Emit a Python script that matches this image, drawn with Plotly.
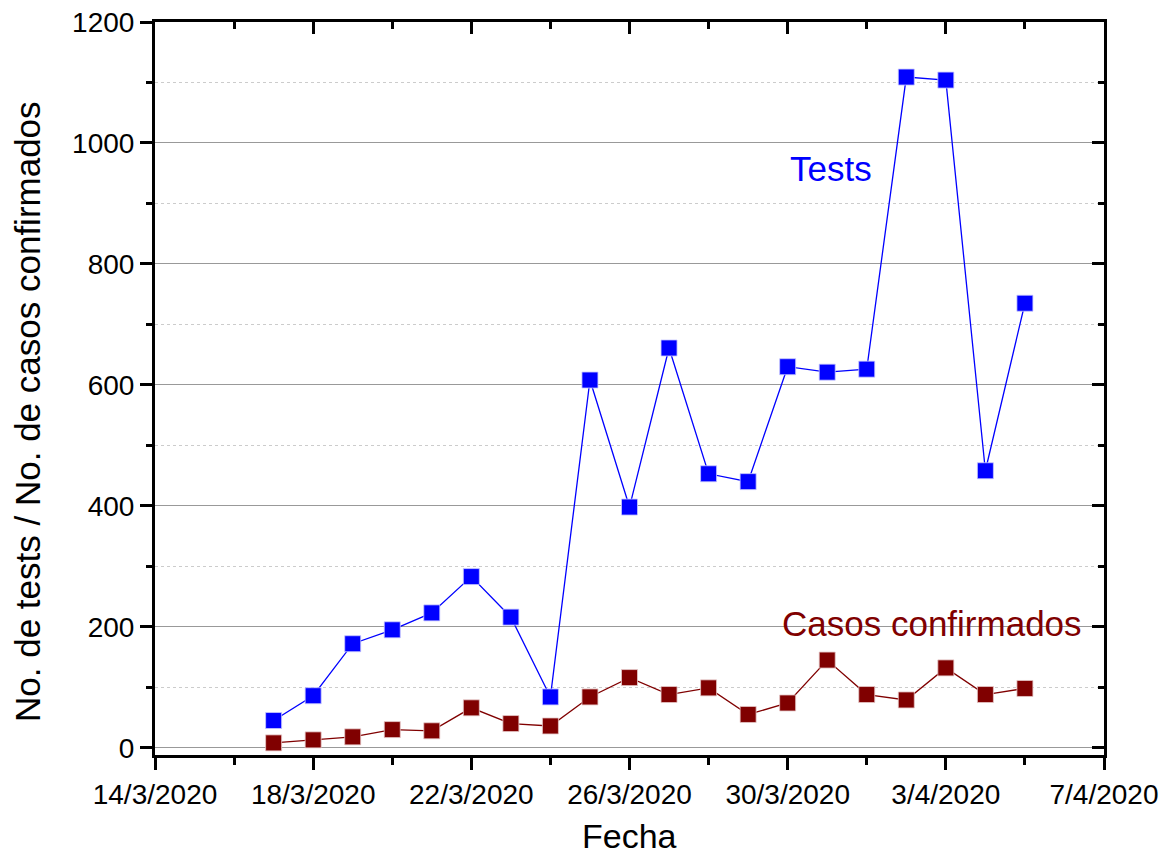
import plotly.graph_objects as go

dates = ["2020-03-17", "2020-03-18", "2020-03-19", "2020-03-20", "2020-03-21",
         "2020-03-22", "2020-03-23", "2020-03-24", "2020-03-25", "2020-03-26",
         "2020-03-27", "2020-03-28", "2020-03-29", "2020-03-30", "2020-03-31",
         "2020-04-01", "2020-04-02", "2020-04-03", "2020-04-04", "2020-04-05"]
tests = [45, 86, 172, 195, 223, 283, 216, 84, 608, 398,
         661, 453, 440, 630, 621, 626, 1109, 1104, 458, 735]
casos = [8, 13, 18, 30, 28, 66, 40, 36, 84, 116,
         88, 99, 55, 74, 145, 88, 79, 132, 88, 98]

tick_vals = ["2020-03-14", "2020-03-18", "2020-03-22", "2020-03-26",
             "2020-03-30", "2020-04-03", "2020-04-07"]
tick_text = ["14/3/2020", "18/3/2020", "22/3/2020", "26/3/2020",
             "30/3/2020", "3/4/2020", "7/4/2020"]

xrange = ["2020-03-14", "2020-04-07"]
yrange = [-12, 1200]
DAY = 86400000

FONT = "Liberation Sans, Arial, sans-serif"

fig = go.Figure()
fig.add_trace(go.Scatter(
    x=dates, y=tests, mode="lines+markers", name="Tests",
    line=dict(color="#0000FF", width=1.3),
    marker=dict(symbol="square", size=16, color="#0000FF",
                line=dict(color="rgba(200,200,255,0.8)", width=1)),
    showlegend=False))
fig.add_trace(go.Scatter(
    x=dates, y=casos, mode="lines+markers", name="Casos confirmados",
    line=dict(color="#800000", width=1.3),
    marker=dict(symbol="square", size=16, color="#800000",
                line=dict(color="rgba(230,200,200,0.8)", width=1)),
    showlegend=False))
# helper invisible trace for top/right mirrored axes
fig.add_trace(go.Scatter(x=xrange, y=yrange, xaxis="x2", yaxis="y2",
                         mode="markers", marker=dict(opacity=0),
                         hoverinfo="skip", showlegend=False))

fig.update_layout(
    width=1165, height=861,
    margin=dict(l=155, r=61, t=22, b=106),
    plot_bgcolor="white", paper_bgcolor="white",
    font=dict(family=FONT, size=28, color="black"),
    xaxis=dict(
        type="date", range=xrange, automargin=False,
        tickmode="array", tickvals=tick_vals, ticktext=tick_text,
        ticks="outside", ticklen=12, tickwidth=2.5, tickcolor="black",
        showline=True, linewidth=3, linecolor="black",
        showgrid=False, zeroline=False,
        minor=dict(tick0="2020-03-14", dtick=2 * DAY, ticks="outside",
                   ticklen=7, tickwidth=2.5, tickcolor="black", showgrid=False),
        tickfont=dict(size=28),
    ),
    yaxis=dict(
        range=yrange, tickmode="linear", tick0=0, dtick=200, automargin=False,
        ticks="outside", ticklen=12, tickwidth=2.5, tickcolor="black",
        showline=True, linewidth=3, linecolor="black",
        showgrid=True, gridcolor="#999999", gridwidth=1.2,
        zeroline=False,
        minor=dict(tick0=0, dtick=100, ticks="outside", ticklen=6,
                   tickwidth=2.5, tickcolor="black", showgrid=True,
                   gridcolor="#cccccc", griddash="dot", gridwidth=1),
        tickfont=dict(size=28),
    ),
    xaxis2=dict(
        type="date", range=xrange, overlaying="x", side="top", anchor="y2",
        automargin=False,
        tickmode="array", tickvals=tick_vals, showticklabels=False,
        ticks="inside", ticklen=12, tickwidth=2.5, tickcolor="black",
        showline=True, linewidth=3, linecolor="black", showgrid=False,
        zeroline=False,
        minor=dict(tick0="2020-03-14", dtick=2 * DAY, ticks="inside",
                   ticklen=7, tickwidth=2.5, tickcolor="black", showgrid=False),
    ),
    yaxis2=dict(
        range=yrange, overlaying="y", side="right", anchor="x2",
        automargin=False,
        tickmode="linear", tick0=0, dtick=200, showticklabels=False,
        ticks="inside", ticklen=12, tickwidth=2.5, tickcolor="black",
        showline=True, linewidth=3, linecolor="black", showgrid=False,
        zeroline=False,
        minor=dict(tick0=0, dtick=100, ticks="inside", ticklen=6,
                   tickwidth=2.5, tickcolor="black", showgrid=False),
    ),
    annotations=[
        dict(xref="paper", yref="paper", x=-0.1338, y=0.468,
             text="No. de tests / No. de casos confirmados", textangle=-90,
             showarrow=False, font=dict(size=35, color="black"),
             xanchor="center", yanchor="middle"),
        dict(xref="paper", yref="paper", x=0.5, y=-0.1105,
             text="Fecha", showarrow=False, font=dict(size=34, color="black"),
             xanchor="center", yanchor="middle"),
        dict(x="2020-03-31T02:00:00", y=958, text="Tests", showarrow=False,
             font=dict(size=35, color="#0000FF"), xanchor="center", yanchor="middle"),
        dict(x="2020-04-02T15:40:00", y=205, text="Casos confirmados", showarrow=False,
             font=dict(size=35, color="#800000"), xanchor="center", yanchor="middle"),
    ],
)

fig.write_html("out.html")
